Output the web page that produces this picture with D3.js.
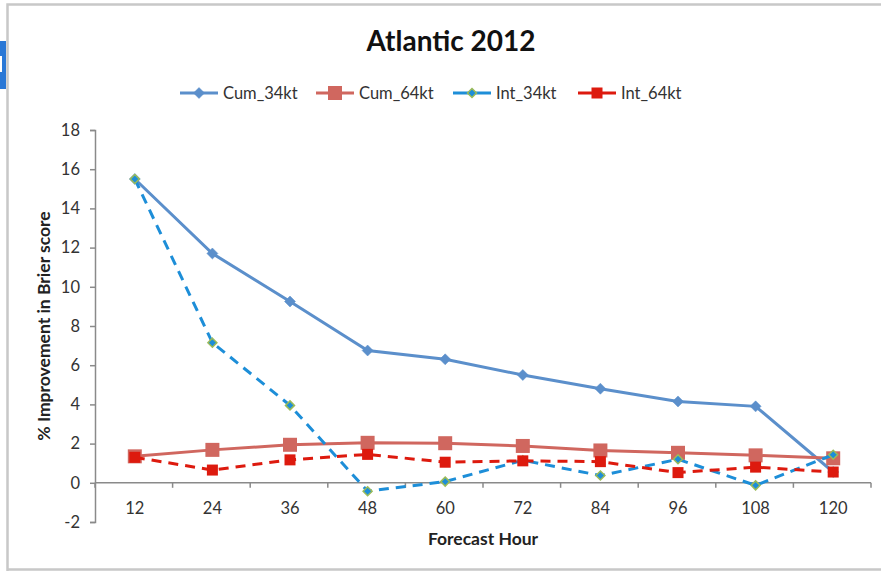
<!DOCTYPE html>
<html>
<head>
<meta charset="utf-8">
<script src="https://cdn.jsdelivr.net/npm/d3@7"></script>
<style>
  body { margin: 0; background: #fff; }
  text { font-family: Lato, "Open Sans", sans-serif; }
</style>
</head>
<body>
<div id="chart"></div>
<script>
// data
var hours   = ["12", "24", "36", "48", "60", "72", "84", "96", "108", "120"];
var cum34   = [15.5, 11.7, 9.25, 6.75, 6.3, 5.5, 4.8, 4.15, 3.9, 0.55];
var cum64   = [1.35, 1.68, 1.94, 2.04, 2.02, 1.88, 1.65, 1.53, 1.4, 1.25];
var int34   = [15.5, 7.15, 3.95, -0.43, 0.06, 1.15, 0.37, 1.2, -0.13, 1.43];
var int64   = [1.3, 0.65, 1.17, 1.45, 1.05, 1.12, 1.08, 0.52, 0.8, 0.55];
var yTicks  = [-2, 0, 2, 4, 6, 8, 10, 12, 14, 16, 18];

var W = 881, H = 571;
var svg = d3.select("#chart").append("svg")
    .attr("width", W)
    .attr("height", H);

// frame and the little blue tab on the left
svg.append("rect")
    .attr("x", 0).attr("y", 41).attr("width", 6).attr("height", 48)
    .attr("fill", "#2a78d6");
svg.append("rect")
    .attr("x", 0).attr("y", 56).attr("width", 2).attr("height", 16)
    .attr("fill", "#fff");
svg.append("path")
    .attr("d", "M7.5,571 V4.5 H881 M7.5,569.5 H881")
    .attr("fill", "none")
    .attr("stroke", "#c8c8c8")
    .attr("stroke-width", 2.5);

var x = d3.scaleBand().domain(hours).range([95, 871]);
var y = d3.scaleLinear().domain([-2, 18]).range([522, 130]);
var cx = function(h) { return x(h) + x.bandwidth() / 2 + 1; };

var axisColor = "#8a8a8a";
var labelFont = 16.5;

// y axis
var gy = svg.append("g")
    .attr("transform", "translate(95,0)")
    .call(d3.axisLeft(y).tickValues(yTicks).tickSize(5).tickPadding(10)
      .tickFormat(function(d) { return String(d); }));
gy.select(".domain").attr("stroke", axisColor).attr("stroke-width", 1.5);
gy.selectAll(".tick line").attr("stroke", axisColor).attr("stroke-width", 1.5);
gy.selectAll(".tick text").attr("font-size", labelFont).attr("fill", "#333")
    .style("font-family", "Lato, sans-serif");

// x axis at zero, ticks between categories
var y0 = y(0);
svg.append("line")
    .attr("x1", 95).attr("x2", 871)
    .attr("y1", y0).attr("y2", y0)
    .attr("stroke", axisColor).attr("stroke-width", 1.5);
svg.selectAll(".xtick").data(hours.concat(["end"])).enter().append("line")
    .attr("x1", function(d) { return d === "end" ? 871 : x(d); })
    .attr("x2", function(d) { return d === "end" ? 871 : x(d); })
    .attr("y1", y0).attr("y2", y0 + 5)
    .attr("stroke", axisColor).attr("stroke-width", 1.5);
svg.selectAll(".xlab").data(hours).enter().append("text")
    .attr("x", function(d) { return cx(d); })
    .attr("y", 514)
    .attr("text-anchor", "middle")
    .attr("font-size", labelFont)
    .attr("fill", "#333")
    .text(function(d) { return d; });

// titles
svg.append("text")
    .attr("x", 451).attr("y", 51)
    .attr("text-anchor", "middle")
    .attr("font-size", 28).attr("font-weight", "bold")
    .attr("fill", "#111")
    .text("Atlantic 2012");
svg.append("text")
    .attr("x", 483).attr("y", 545)
    .attr("text-anchor", "middle")
    .attr("font-size", 17.5).attr("font-weight", "bold")
    .attr("fill", "#222")
    .text("Forecast Hour");
svg.append("text")
    .attr("transform", "translate(50,326) rotate(-90)")
    .attr("text-anchor", "middle")
    .attr("font-size", 17.5).attr("font-weight", "bold")
    .attr("fill", "#222")
    .text("% Improvement in Brier score");

// series
var series = [
  {name: "Cum_34kt", values: cum34, color: "#5b8fcb", dash: null, shape: "diamond", size: 11, fill: "#5b8fcb", stroke: "#5b8fcb", lx: 180},
  {name: "Cum_64kt", values: cum64, color: "#d0675f", dash: null, shape: "square", size: 14, fill: "#d0675f", stroke: "#d0675f", lx: 316},
  {name: "Int_34kt", values: int34, color: "#1d8ed8", dash: "10,7", shape: "diamond", size: 9, fill: "#1d8ed8", stroke: "#9bbb59", lx: 453},
  {name: "Int_64kt", values: int64, color: "#dd1a0e", dash: "10,7", shape: "square", size: 11, fill: "#dd1a0e", stroke: "#dd1a0e", lx: 578}
];

function marker(g, s, px, py) {
  if (s.shape === "diamond") {
    var r = s.size / 2;
    g.append("path")
        .attr("d", "M" + px + "," + (py - r) + " L" + (px + r) + "," + py + " L" + px + "," + (py + r) + " L" + (px - r) + "," + py + "Z")
        .attr("fill", s.fill)
        .attr("stroke", s.stroke)
        .attr("stroke-width", s.stroke === s.fill ? 0.5 : 1.5);
  } else {
    g.append("rect")
        .attr("x", px - s.size / 2).attr("y", py - s.size / 2)
        .attr("width", s.size).attr("height", s.size)
        .attr("fill", s.fill);
  }
}

var line = d3.line()
    .x(function(d, i) { return cx(hours[i]); })
    .y(function(d) { return y(d); });

series.forEach(function(s) {
  var g = svg.append("g");
  g.append("path")
      .datum(s.values)
      .attr("d", line)
      .attr("fill", "none")
      .attr("stroke", s.color)
      .attr("stroke-width", 3)
      .attr("stroke-dasharray", s.dash);
  s.values.forEach(function(v, i) {
    marker(g, s, cx(hours[i]), y(v));
  });

  // legend entry
  var lg = svg.append("g");
  lg.append("line")
      .attr("x1", s.lx).attr("x2", s.lx + 38)
      .attr("y1", 93).attr("y2", 93)
      .attr("stroke", s.color).attr("stroke-width", 3);
  marker(lg, s, s.lx + 19, 93);
  lg.append("text")
      .attr("x", s.lx + 43).attr("y", 99)
      .attr("font-size", labelFont)
      .attr("fill", "#333")
      .text(s.name);
});
</script>
</body>
</html>
